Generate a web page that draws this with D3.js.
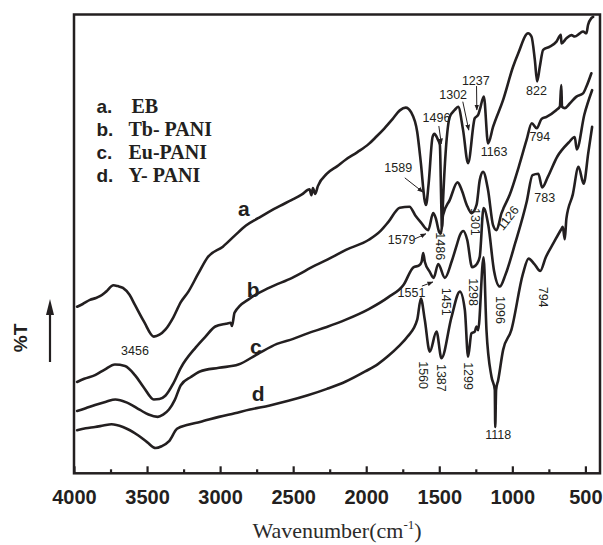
<!DOCTYPE html>
<html>
<head>
<meta charset="utf-8">
<script src="https://cdn.jsdelivr.net/npm/d3@7"></script>
<style>
  html, body { margin: 0; padding: 0; background: #fff; }
  svg { display: block; }
</style>
</head>
<body>
<svg id="chart" width="603" height="545"></svg>
<script>
// ---- data (wavenumber cm^-1, relative transmittance) ----
const xTicks = [4000, 3500, 3000, 2500, 2000, 1500, 1000, 500];
const xMinorTicks = [3750, 3250, 2750, 2250, 1750, 1250, 750];

const seriesNames = ["a", "b", "c", "d"];
const legendPrefixes = ["a.", "b.", "c.", "d."];
const legendLabels = ["EB", "Tb- PANI", "Eu-PANI", "Y- PANI"];

const specA = [[3979,36.3],[3940,36.9],[3891,37.8],[3850,38.2],[3822,38.6],[3780,39.6],[3730,41.0],[3700,40.8],[3665,40.4],[3620,38.9],[3583,36.7],[3520,33.0],[3454,29.8],[3415,30.2],[3375,31.3],[3320,34.0],[3269,37.3],[3217,39.6],[3150,43.5],[3085,47.1],[2981,49.4],[2900,51.8],[2823,54.0],[2740,55.6],[2666,57.0],[2590,58.3],[2509,59.6],[2440,60.8],[2388,61.9],[2375,60.6],[2365,62.2],[2349,60.9],[2331,62.6],[2269,65.3],[2200,66.9],[2139,68.4],[2060,70.0],[1982,71.8],[1930,73.4],[1875,75.2],[1820,77.2],[1770,79.1],[1730,79.7],[1691,78.6],[1651,74.4],[1626,67.6],[1599,59.3],[1591,58.5],[1573,63.1],[1546,73.3],[1533,74.0],[1512,72.9],[1496,71.6],[1487,59.6],[1482,53.5],[1474,59.6],[1428,77.7],[1394,79.2],[1371,79.9],[1337,74.8],[1303,67.6],[1257,77.4],[1234,78.1],[1223,79.2],[1195,82.1],[1166,71.9],[1132,75.5],[1063,81.4],[995,88.6],[960,91.5],[892,95.9],[869,95.2],[846,90.1],[830,85.4],[812,88.6],[789,92.3],[744,93.0],[698,94.1],[668,95.6],[664,93.7],[630,94.8],[595,95.5],[573,95.2],[538,95.9],[516,96.3],[493,95.9],[482,97.7],[459,99.2],[447,99.5]];

const specB = [[3979,19.9],[3930,20.6],[3856,21.4],[3790,22.6],[3720,23.7],[3651,23.4],[3583,21.4],[3520,18.6],[3454,16.1],[3415,16.2],[3375,16.9],[3320,19.6],[3269,23.0],[3165,27.5],[3100,29.8],[3033,32.0],[2960,32.6],[2927,32.8],[2919,32.1],[2901,35.0],[2796,38.1],[2666,40.4],[2507,42.6],[2349,45.3],[2240,47.0],[2139,48.7],[1982,50.9],[1900,52.9],[1848,54.8],[1770,57.9],[1704,58.1],[1664,56.2],[1626,54.7],[1576,53.0],[1542,56.7],[1524,55.6],[1501,52.6],[1489,52.2],[1474,56.3],[1428,59.6],[1375,63.4],[1346,61.7],[1312,58.5],[1279,56.7],[1245,58.5],[1223,63.9],[1200,65.7],[1166,61.7],[1132,54.1],[1108,53.0],[1074,56.7],[1060,57.8],[1018,60.7],[956,66.8],[903,72.6],[867,76.3],[833,75.2],[801,77.2],[766,77.7],[698,79.2],[675,79.9],[665,84.6],[660,79.9],[641,79.6],[607,80.6],[561,82.1],[516,82.8],[493,84.3],[459,87.2]];

const specC = [[3979,13.6],[3920,14.2],[3856,14.9],[3780,15.6],[3717,16.1],[3637,15.4],[3548,13.8],[3490,12.8],[3427,12.3],[3390,12.8],[3350,13.9],[3310,16.0],[3269,19.2],[3200,21.0],[3138,22.2],[3008,23.0],[2875,23.7],[2743,26.0],[2611,28.2],[2500,29.3],[2401,30.5],[2270,31.9],[2139,33.5],[1982,35.8],[1848,38.4],[1744,41.1],[1677,44.9],[1638,45.3],[1621,46.1],[1610,48.0],[1599,46.1],[1565,43.9],[1539,42.6],[1507,45.6],[1462,42.6],[1416,46.1],[1380,49.8],[1359,51.9],[1335,52.8],[1309,50.9],[1275,44.9],[1243,45.6],[1223,47.2],[1197,57.8],[1164,54.0],[1125,44.1],[1086,40.7],[1046,43.4],[980,50.2],[901,59.3],[862,65.0],[822,65.3],[796,62.3],[757,64.6],[691,69.1],[614,72.1],[573,73.3],[559,70.6],[507,78.2],[454,83.5]];

const specD = [[3979,9.4],[3920,9.8],[3856,10.1],[3800,10.4],[3743,10.7],[3665,10.1],[3562,8.3],[3500,6.8],[3441,5.5],[3400,5.9],[3349,7.0],[3295,9.7],[3220,10.6],[3138,11.2],[3008,12.3],[2900,13.1],[2796,13.9],[2660,14.8],[2533,15.8],[2400,17.0],[2269,18.4],[2140,20.0],[2007,22.2],[1920,23.8],[1848,25.6],[1780,27.6],[1717,29.8],[1651,33.5],[1626,38.1],[1599,33.4],[1565,26.5],[1519,30.9],[1485,25.1],[1416,34.1],[1359,39.6],[1325,35.6],[1303,25.4],[1280,30.5],[1257,30.9],[1245,32.0],[1234,31.2],[1197,47.1],[1177,31.2],[1143,21.1],[1120,18.2],[1117,10.1],[1111,18.2],[1097,20.3],[1063,26.9],[1007,31.2],[928,43.4],[889,46.8],[849,45.6],[809,44.1],[771,47.1],[718,50.2],[665,53.2],[655,53.7],[641,51.0],[630,55.5],[586,60.8],[547,66.8],[512,63.1],[480,69.9],[454,75.5]];

const spectra = [specA, specB, specC, specD];

// curve letters: [text, wavenumber, T]
const curveLetters = [["a",2837,57.8],["b",2773,40.1],["c",2755,27.6],["d",2739,17.4]];

// peak labels: [text, wavenumber, T, rotation]
const peakLabels = [
  ["822",835,83.4,0],["1237",1250,85.6,0],["1302",1405,82.5,0],["1496",1519,77.4,0],
  ["1163",1125,70.1,0],["794",812,73.4,0],["1589",1781,66.5,0],["783",778,59.9,0],
  ["1301",1257,54.8,90],["1126",1029,55.6,-52],["1579",1758,50.9,0],["1486",1493,49.5,90],
  ["1298",1268,39.5,90],["1551",1690,39.2,0],["1451",1455,37.4,90],["1096",1086,35.6,90],
  ["794",790,38.4,90],["3456",3583,26.7,0],["1560",1610,21.4,90],["1387",1489,20.8,90],
  ["1299",1303,21.2,90],["1118",1097,8.35,0]
];

// pointer arrows: [fromW, fromT, toW, toT]
const pointers = [
  [1736,64.4,1612,61.3],[1667,51.1,1592,52.2],[1619,40.8,1544,41.7],
  [1503,75.7,1486,71.8],[1339,81.0,1298,74.8],[1245,84.4,1243,79.2]
];

// ---- drawing ----
const ink = "#231f20";
const svg = d3.select("#chart");
const L = 74, R = 600, T = 14.5, B = 473.3;

const x = d3.scaleLinear().domain([4000, 400]).range([L, R]);
const y = d3.scaleLinear().domain([0, 100]).range([B, T]);

svg.append("defs").append("marker")
  .attr("id", "ah").attr("viewBox", "0 0 10 10").attr("refX", 9).attr("refY", 5)
  .attr("markerWidth", 6).attr("markerHeight", 6).attr("orient", "auto")
  .append("path").attr("d", "M0,1 L10,5 L0,9 z").attr("fill", ink);

// spectra
const line = d3.line().x(d => x(d[0])).y(d => y(d[1])).curve(d3.curveMonotoneX);
svg.append("g").selectAll("path").data(spectra).join("path")
  .attr("d", line).attr("fill", "none").attr("stroke", ink)
  .attr("stroke-width", 2.6).attr("stroke-linejoin", "round").attr("stroke-linecap", "round");

// x axis with inward ticks
const xAxis = d3.axisBottom(x).tickValues(xTicks).tickSize(-7).tickPadding(12).tickFormat(d3.format("d"));
const gx = svg.append("g").attr("transform", `translate(0,${B})`).call(xAxis);
gx.select(".domain").remove();
gx.selectAll(".tick line").attr("stroke", ink).attr("stroke-width", 2.2);
gx.selectAll(".tick text").attr("fill", ink).attr("font-family", "Arial, 'Liberation Sans', sans-serif")
  .attr("font-weight", "bold").attr("font-size", 20).attr("dy", "0.95em");
const gxm = svg.append("g").attr("transform", `translate(0,${B})`)
  .call(d3.axisBottom(x).tickValues(xMinorTicks).tickSize(-4).tickFormat(""));
gxm.select(".domain").remove();
gxm.selectAll(".tick line").attr("stroke", ink).attr("stroke-width", 2.2);

// frame
svg.append("rect").attr("x", L).attr("y", T).attr("width", R - L).attr("height", B - T)
  .attr("fill", "none").attr("stroke", ink).attr("stroke-width", 2.5);

// x title
const xt = svg.append("text").attr("x", (L + R) / 2).attr("y", 538).attr("text-anchor", "middle")
  .attr("font-family", "'Liberation Serif', 'Times New Roman', serif").attr("font-size", 22).attr("fill", "#2b2b2b");
xt.append("tspan").text("Wavenumber(cm");
xt.append("tspan").attr("font-size", 13).attr("dy", -9).text("-1");
xt.append("tspan").attr("dy", 9).text(")");

// y title and arrow
svg.append("text").attr("transform", "translate(20,338) rotate(-90)").attr("text-anchor", "middle")
  .attr("dominant-baseline", "central").attr("font-family", "Arial, 'Liberation Sans', sans-serif")
  .attr("font-weight", "bold").attr("font-size", 19).attr("fill", ink).text("%T");
svg.append("line").attr("x1", 50).attr("x2", 50).attr("y1", 362).attr("y2", 310)
  .attr("stroke", ink).attr("stroke-width", 2.2);
svg.append("path").attr("d", "M50,299 L54,315 L46,315 Z").attr("fill", ink);

// legend
const lg = svg.append("g");
legendPrefixes.forEach((p, i) => {
  const yy = 112.7 + i * 23.2;
  lg.append("text").attr("x", 96.5).attr("y", yy).attr("font-family", "Arial, 'Liberation Sans', sans-serif")
    .attr("font-weight", "bold").attr("font-size", 19).attr("fill", ink).text(p);
  lg.append("text").attr("x", i === 0 ? 131.5 : 128.5).attr("y", yy)
    .attr("font-family", "'Liberation Serif', 'Times New Roman', serif")
    .attr("font-weight", "bold").attr("font-size", 20).attr("fill", ink).text(legendLabels[i]);
});

// curve letters
svg.append("g").selectAll("text").data(curveLetters).join("text")
  .attr("x", d => x(d[1])).attr("y", d => y(d[2])).attr("text-anchor", "middle")
  .attr("dominant-baseline", "central").attr("font-family", "Arial, 'Liberation Sans', sans-serif")
  .attr("font-weight", "bold").attr("font-size", 21).attr("fill", ink).text(d => d[0]);

// peak labels
svg.append("g").selectAll("text").data(peakLabels).join("text")
  .attr("transform", d => `translate(${x(d[1])},${y(d[2])}) rotate(${d[3]})`)
  .attr("text-anchor", "middle").attr("dominant-baseline", "central")
  .attr("font-family", "Arial, 'Liberation Sans', sans-serif").attr("font-size", 12.5)
  .attr("fill", ink).text(d => d[0]);

// pointer arrows
svg.append("g").selectAll("line").data(pointers).join("line")
  .attr("x1", d => x(d[0])).attr("y1", d => y(d[1])).attr("x2", d => x(d[2])).attr("y2", d => y(d[3]))
  .attr("stroke", ink).attr("stroke-width", 1).attr("marker-end", "url(#ah)");
</script>
</body>
</html>
